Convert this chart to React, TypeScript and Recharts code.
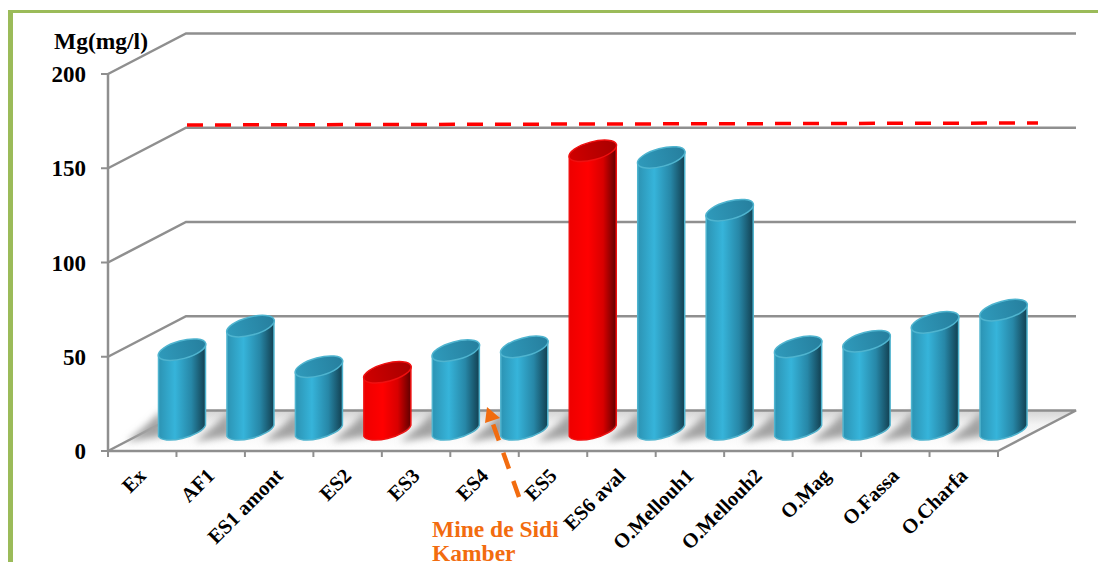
import { Bar, BarChart, CartesianGrid, Cell, ReferenceLine, XAxis, YAxis } from "recharts";

const categories = ["Ex", "AF1", "ES1 amont", "ES2", "ES3", "ES4", "ES5", "ES6 aval", "O.Mellouh1", "O.Mellouh2", "O.Mag", "O.Fassa", "O.Charfa"];
const magnesium = [43, 55.5, 34, 31, 42.5, 44.5, 148.5, 145, 117, 44.5, 47.5, 57.5, 64];
const mineSites = ["ES2", "ES5"];
const yTicks = [0, 50, 100, 150, 200];
const limitValue = 152;

const data = categories.map((name, i) => ({ name, mg: magnesium[i] }));

const WIDTH = 1098;
const HEIGHT = 562;
const PLOT_LEFT = 108;
const PLOT_RIGHT = 998;
const BAND = (PLOT_RIGHT - PLOT_LEFT) / categories.length;
// depth of the pseudo-3D box
const DEPTH_X = 78;
const DEPTH_Y = 40.5;
const AXIS_GREY = "#8f8f8f";
const SERIF = "'Liberation Serif', 'Times New Roman', serif";

function WallLine(props: any) {
  const { x1, x2, y1 } = props;
  const backY = y1 - DEPTH_Y;
  const isFloor = Math.abs(y1 - 451) < 1;
  return (
    <g>
      {isFloor && (
        <polygon
          points={`${x1},${y1} ${x1 + DEPTH_X},${backY} ${x2 + DEPTH_X},${backY} ${x2},${y1}`}
          fill="url(#floorFill)"
        />
      )}
      <polyline
        points={`${x1},${y1} ${x1 + DEPTH_X},${backY} ${x2 + DEPTH_X},${backY}${isFloor ? ` ${x2},${y1}` : ""}`}
        fill="none"
        stroke={AXIS_GREY}
        strokeWidth={2.5}
      />
    </g>
  );
}

function Cylinder(props: any) {
  const { x, y, width, height, fill } = props;
  const rx = width / 2 + 1;
  const ry = 9;
  const tilt = -15;
  const slope = 5.5;
  const cx = x + width / 2 + DEPTH_X / 2 + 0.5;
  const top = y - DEPTH_Y / 2;
  const base = y + height - DEPTH_Y / 2;
  const left = cx - width / 2;
  const right = cx + width / 2;
  const red = fill === "red";
  return (
    <g>
      <polygon
        points={`${left + 3},${base - 20} ${left + 5},${base + 5} ${left - 32},${base + 11} ${left - 14},${base - 4}`}
        fill="#a2a2a2"
        filter="url(#floorShadow)"
      />
      <path
        d={`M${left},${top + slope} L${left},${base + slope} A${rx},${ry} ${tilt} 0 0 ${right},${base - slope} L${right},${top - slope} Z`}
        fill={red ? "url(#redBody)" : "url(#blueBody)"}
        stroke={red ? "#f01010" : "#4fb4cf"}
        strokeWidth={1.5}
      />
      <ellipse
        cx={cx}
        cy={top}
        rx={rx}
        ry={ry}
        transform={`rotate(${tilt} ${cx} ${top})`}
        fill={red ? "url(#redTop)" : "url(#blueTop)"}
        stroke={red ? "#f01010" : "#4fb4cf"}
        strokeWidth={1.5}
      />
    </g>
  );
}

function CategoryTick(props: any) {
  const { x, y, payload, index } = props;
  const edge = x - BAND / 2;
  return (
    <g>
      <line x1={edge} y1={451} x2={edge} y2={457} stroke={AXIS_GREY} strokeWidth={2} />
      {index === categories.length - 1 && (
        <line x1={x + BAND / 2} y1={451} x2={x + BAND / 2} y2={457} stroke={AXIS_GREY} strokeWidth={2} />
      )}
      <text
        x={x + 5}
        y={y + 18}
        transform={`rotate(-45 ${x + 5} ${y + 18})`}
        textAnchor="end"
        fontFamily={SERIF}
        fontWeight="bold"
        fontSize={20.5}
        fill="#000"
      >
        {payload.value}
      </text>
    </g>
  );
}

function LimitLine(props: any) {
  const { x1, y1 } = props;
  return (
    <line
      x1={x1 + DEPTH_X + 1}
      y1={y1 - DEPTH_Y + 1}
      x2={x1 + 930}
      y2={y1 - DEPTH_Y - 1}
      stroke="#ff0000"
      strokeWidth={3.5}
      strokeDasharray="16 12"
    />
  );
}

export default function App() {
  return (
    <div style={{ position: "absolute", left: 0, top: 0, width: WIDTH, height: HEIGHT, overflow: "hidden", background: "#fff" }}>
      <div style={{ position: "absolute", left: 8, top: 10, width: WIDTH - 8, height: 3, background: "#9bbb59" }} />
      <div style={{ position: "absolute", left: 8, top: 10, width: 5, height: 552, background: "#9bbb59" }} />
      <BarChart
        width={WIDTH}
        height={HEIGHT}
        data={data}
        margin={{ top: 74, right: WIDTH - PLOT_RIGHT, bottom: 0, left: 0 }}
        barSize={47}
      >
        <defs>
          <linearGradient id="blueBody" x1="0" y1="0" x2="1" y2="0">
            <stop offset="0" stopColor="#2c93b3" />
            <stop offset="0.35" stopColor="#36b4da" />
            <stop offset="0.7" stopColor="#2787a7" />
            <stop offset="1" stopColor="#123f50" />
          </linearGradient>
          <linearGradient id="blueTop" x1="0" y1="0" x2="1" y2="0">
            <stop offset="0" stopColor="#2f9abb" />
            <stop offset="1" stopColor="#267f9e" />
          </linearGradient>
          <linearGradient id="redBody" x1="0" y1="0" x2="1" y2="0">
            <stop offset="0" stopColor="#ee0000" />
            <stop offset="0.4" stopColor="#ff0000" />
            <stop offset="0.72" stopColor="#d80000" />
            <stop offset="1" stopColor="#600000" />
          </linearGradient>
          <linearGradient id="redTop" x1="0" y1="0" x2="1" y2="0">
            <stop offset="0" stopColor="#d00000" />
            <stop offset="1" stopColor="#a80000" />
          </linearGradient>
          <linearGradient id="floorFill" x1="0" y1="0" x2="0" y2="1">
            <stop offset="0" stopColor="#d4d4d4" />
            <stop offset="0.35" stopColor="#f4f4f4" />
            <stop offset="1" stopColor="#ffffff" />
          </linearGradient>
          <filter id="floorShadow" x="-40%" y="-40%" width="180%" height="180%">
            <feGaussianBlur stdDeviation="3.5" />
          </filter>
        </defs>
        <CartesianGrid vertical={false} horizontal={(p: any) => <WallLine key={p.key} {...p} />} />
        <XAxis
          dataKey="name"
          height={HEIGHT - 451}
          interval={0}
          axisLine={{ stroke: AXIS_GREY, strokeWidth: 2.5 }}
          tickLine={false}
          tick={<CategoryTick />}
        />
        <YAxis
          width={PLOT_LEFT}
          domain={[0, 200]}
          ticks={yTicks}
          axisLine={{ stroke: AXIS_GREY, strokeWidth: 2.5 }}
          tickLine={{ stroke: AXIS_GREY, strokeWidth: 2 }}
          tickSize={7}
          tickMargin={15}
          tick={{ fontFamily: SERIF, fontWeight: "bold", fontSize: 23, fill: "#000" }}
        />
        <ReferenceLine y={limitValue} shape={<LimitLine />} />
        <Bar dataKey="mg" isAnimationActive={false} shape={<Cylinder />}>
          {categories.map((name) => (
            <Cell key={name} fill={mineSites.includes(name) ? "red" : "blue"} />
          ))}
        </Bar>
      </BarChart>
      <svg width={WIDTH} height={HEIGHT} style={{ position: "absolute", left: 0, top: 0, pointerEvents: "none" }}>
        <text x={54} y={49} fontFamily={SERIF} fontWeight="bold" fontSize={23.5} fill="#000">
          Mg(mg/l)
        </text>
        <line x1={519} y1={497} x2={493} y2={424} stroke="#f26c0f" strokeWidth={4.5} strokeDasharray="17 13" />
        <polygon points="487,407 500,418 485,423" fill="#f26c0f" />
        <text x={432} y={537} fontFamily={SERIF} fontWeight="bold" fontSize={23.5} fill="#f26c0f">
          Mine de Sidi
        </text>
        <text x={432} y={561} fontFamily={SERIF} fontWeight="bold" fontSize={23.5} fill="#f26c0f">
          Kamber
        </text>
      </svg>
    </div>
  );
}
